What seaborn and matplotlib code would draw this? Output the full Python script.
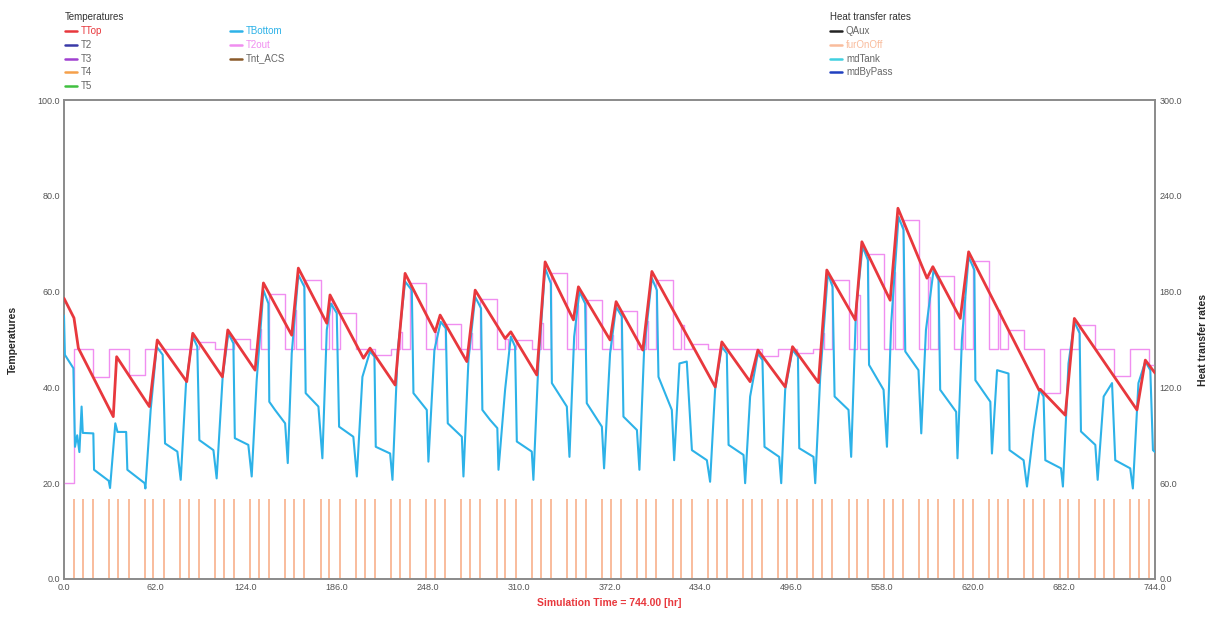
import matplotlib
matplotlib.use("Agg")
import matplotlib.pyplot as plt
from matplotlib.lines import Line2D
import seaborn as sns
import pandas as pd

# ---------------- data ----------------
TTOP_T = [0, 6.8, 9.8, 33.6, 35.9, 58.2, 63.6, 83.7, 87.8, 108.0, 111.7, 130.3, 136.0,
          155.3, 159.8, 179.2, 181.4, 204.2, 208.7, 225.8, 232.6, 253.1, 256.5, 274.7,
          280.4, 300.8, 304.7, 322.4, 328.1, 347.4, 350.8, 372.4, 376.5, 394.7, 400.9,
          444.1, 448.6, 467.9, 473.2, 491.8, 496.8, 514.5, 520.2, 539.6, 544.1, 563.4,
          568.7, 588.5, 592.5, 611.2, 616.9, 665.0, 665.8, 682.8, 689.0, 731.7, 737.4, 744.0]
TTOP_V = [58.6, 54.5, 48.2, 33.9, 46.4, 36.0, 49.9, 41.2, 51.3, 42.2, 52.0, 43.6, 61.8,
          50.9, 64.9, 53.4, 59.3, 46.1, 48.2, 40.5, 63.8, 51.6, 55.1, 45.4,
          60.3, 50.2, 51.6, 42.6, 66.2, 54.1, 61.0, 49.9, 57.9, 47.8, 64.2,
          40.1, 49.5, 41.2, 47.8, 40.1, 48.5, 41.0, 64.5, 54.1, 70.4, 58.2,
          77.4, 62.8, 65.2, 54.4, 68.3, 39.4, 39.6, 34.2, 54.4, 35.3, 45.7, 43.0]

TBOT_T = [0, 0.6, 6.4, 7.5, 9.0, 10.5, 12.0, 12.8, 20.0, 20.5, 30.5, 31.4, 35.0, 36.5,
          42.4, 43.2, 55.0, 55.5, 59.1, 63.2, 67.3, 68.9, 77.3, 79.6, 83.2, 87.8, 90.9,
          92.3, 101.9, 104.1, 108.2, 112.1, 115.5, 116.5, 125.7, 128.0, 131.4, 136.0,
          139.4, 140.0, 143.9, 150.8, 152.6, 155.3, 159.8, 163.9, 164.8, 173.5, 176.2,
          179.2, 182.1, 186.0, 187.6, 197.3, 199.7, 203.5, 208.7, 211.7, 212.6, 222.4,
          224.0, 227.6, 232.6, 237.2, 238.3, 247.4, 248.5, 252.6, 256.9, 260.4, 261.7,
          271.3, 272.4, 275.8, 280.4, 284.4, 285.3, 290.6, 295.5, 296.3, 300.8, 304.7,
          307.6, 308.8, 319.0, 320.1, 323.5, 328.1, 332.0, 332.7, 342.9, 344.7, 347.9,
          351.5, 355.4, 356.5, 366.8, 368.3, 372.4, 376.5, 380.4, 381.5, 390.7, 392.4,
          395.6, 400.9, 404.3, 405.4, 414.5, 416.1, 419.7, 424.7, 428.2, 438.4, 440.6,
          444.0, 448.6, 452.0, 453.2, 463.4, 464.5, 467.9, 473.2, 476.3, 477.7, 487.7,
          489.1, 491.8, 496.8, 500.5, 501.4, 511.1, 512.3, 515.7, 520.9, 524.1, 525.5,
          535.0, 536.8, 540.1, 544.6, 548.2, 549.0, 558.9, 561.2, 564.1, 569.1, 572.5,
          573.7, 582.7, 584.6, 587.8, 593.0, 596.4, 597.5, 608.4, 609.3, 612.3, 616.9,
          620.8, 621.5, 631.7, 632.8, 636.3, 644.1, 644.8, 654.4, 656.7, 661.2, 665.3,
          668.0, 669.2, 679.9, 681.2, 685.0, 689.0, 692.6, 693.5, 703.3, 704.9, 709.0,
          714.7, 716.9, 727.1, 728.9, 732.7, 737.4, 740.8, 742.6, 744.0]
TBOT_V = [55.0, 46.8, 44.0, 27.6, 30.0, 26.5, 36.0, 30.5, 30.4, 22.8, 20.5, 19.0, 32.5, 30.7,
          30.7, 22.8, 20.0, 18.9, 35.3, 48.5, 46.8, 28.3, 26.6, 20.7, 40.8, 50.6, 48.5,
          29.0, 26.9, 21.0, 42.2, 51.3, 49.2, 29.4, 28.0, 21.4, 41.5, 60.3,
          57.5, 37.0, 35.3, 32.5, 24.2, 47.1, 63.5, 61.0, 38.8, 36.0, 25.2,
          52.0, 57.5, 55.5, 31.8, 29.7, 21.4, 42.2, 47.5, 46.4, 27.6, 26.2,
          20.7, 47.8, 62.1, 60.3, 38.8, 35.3, 24.5, 47.8, 53.7, 52.3, 32.5,
          29.7, 21.4, 45.7, 58.9, 56.5, 35.3, 33.2, 31.5, 22.8, 39.5, 50.6,
          48.5, 28.7, 26.6, 20.7, 45.0, 64.9, 61.7, 40.9, 36.0, 25.5, 50.6,
          60.0, 57.5, 36.7, 31.8, 23.1, 47.1, 56.8, 54.8, 33.9, 31.1, 22.8,
          47.8, 62.8, 60.3, 42.2, 35.3, 24.8, 45.0, 45.4, 26.9, 24.8, 20.3,
          39.5, 48.5, 47.1, 28.0, 25.9, 20.0, 38.1, 47.1, 45.7, 27.6, 25.5,
          20.0, 39.5, 47.8, 46.4, 27.3, 25.5, 20.0, 42.2, 63.8, 61.0, 38.1,
          35.3, 25.5, 56.2, 69.4, 66.6, 44.7, 39.5, 27.6, 53.4, 75.6, 72.9,
          47.5, 43.6, 30.4, 52.0, 64.5, 62.4, 39.5, 34.9, 25.2, 49.9, 67.3,
          64.5, 41.5, 37.0, 26.2, 43.6, 42.9, 26.9, 24.8, 19.3, 31.1, 39.5,
          38.1, 24.8, 23.1, 19.3, 45.0, 53.7, 51.3, 30.8, 28.0, 20.7, 38.1,
          40.9, 24.8, 23.1, 18.9, 40.9, 45.4, 43.6, 26.9, 26.5]

# pink step series (value held from each time until the next)
T2OUT_T = [0, 7, 20, 31, 44, 55, 68, 79, 92, 103, 116,
           127, 133, 134.5, 140, 151, 157, 158.5, 164, 175, 181, 182.5, 188,
           199, 212, 223, 229, 230.5, 236, 247, 253, 254.5, 260, 271, 277, 278.5, 284,
           295, 301, 302.5, 308, 319, 325, 326.5, 332, 343, 349, 350.5, 356,
           367, 373, 374.5, 380, 391, 397, 398.5, 404, 415, 421, 422.5, 428,
           439, 452, 463, 476, 487, 500, 511, 517, 518.5, 524, 535, 541, 542.5, 548,
           559, 565, 566.5, 572, 583, 589, 590.5, 596, 607, 613, 614.5, 620,
           631, 637, 638.5, 644, 655, 668, 679, 692, 703, 716, 727, 740, 744]
T2OUT_V = [20.0, 48.0, 42.1, 48.0, 42.6, 48.0, 48.0, 48.0, 49.4, 48.0, 50.1,
           48.0, 52.2, 48.0, 59.5, 48.0, 56.2, 48.0, 62.4, 48.0, 58.2, 48.0, 55.5,
           48.0, 46.7, 48.0, 51.5, 48.0, 61.8, 48.0, 51.6, 48.0, 53.2, 48.0, 51.4, 48.0, 58.5,
           48.0, 50.2, 48.0, 49.9, 48.0, 53.4, 48.0, 63.8, 48.0, 57.3, 48.0, 58.3,
           48.0, 50.9, 48.0, 56.0, 48.0, 53.9, 48.0, 62.5, 48.0, 53.0, 48.0, 49.1,
           48.0, 48.0, 48.0, 46.6, 48.0, 47.1, 48.0, 51.3, 48.0, 62.5, 48.0, 59.2, 48.0, 67.9,
           48.0, 64.0, 48.0, 75.0, 48.0, 63.1, 48.0, 63.2, 48.0, 58.8, 48.0, 66.4,
           48.0, 56.2, 48.0, 52.0, 48.0, 38.9, 48.0, 53.1, 48.0, 42.3, 48.0, 44.6, 44.6]

# hot-water draw pulses (hr) and their height on the heat-rate axis
PULSE_T = [7, 13, 20, 31, 37, 44, 55, 61, 68, 79, 85, 92, 103, 109, 116, 127, 133, 140,
           151, 157, 164, 175, 181, 188, 199, 205, 212, 223, 229, 236, 247, 253, 260,
           271, 277, 284, 295, 301, 308, 319, 325, 332, 343, 349, 356, 367, 373, 380,
           391, 397, 404, 415, 421, 428, 439, 445, 452, 463, 469, 476, 487, 493, 500,
           511, 517, 524, 535, 541, 548, 559, 565, 572, 583, 589, 596, 607, 613, 620,
           631, 637, 644, 655, 661, 668, 679, 685, 692, 703, 709, 716, 727, 733, 740]
PULSE_H = 50.0

X_TICKS = [0, 62, 124, 186, 248, 310, 372, 434, 496, 558, 620, 682, 744]
YL_TICKS = [0, 20, 40, 60, 80, 100]
YR_TICKS = [0, 60, 120, 180, 240, 300]

TEMP_NAMES = ["TTop", "T2", "T3", "T4", "T5", "TBottom", "T2out", "Tnt_ACS"]
HEAT_NAMES = ["QAux", "furOnOff", "mdTank", "mdByPass"]

# ---------------- styling ----------------
RED = "#e8383d"
SKY = "#2db2e8"
PINK = "#f08ef0"
ORANGE = "#f9bc9c"
GRAY = "#666666"

sns.set_style("white")
plt.rcParams["font.family"] = ["Liberation Sans", "DejaVu Sans"]

fig = plt.figure(figsize=(12.21, 6.22), dpi=100)
ax = fig.add_axes([64 / 1221, 43 / 622, 1091 / 1221, 479 / 622])
ax2 = ax.twinx()

df_top = pd.DataFrame({"t": TTOP_T, "v": TTOP_V})
df_bot = pd.DataFrame({"t": TBOT_T, "v": TBOT_V})
df_pink = pd.DataFrame({"t": T2OUT_T, "v": T2OUT_V})

ax2.vlines(PULSE_T, 0, PULSE_H, color=ORANGE, lw=1.4, zorder=1)
sns.lineplot(data=df_pink, x="t", y="v", ax=ax, color=PINK, lw=1.0,
             estimator=None, sort=False, drawstyle="steps-post", zorder=2)
sns.lineplot(data=df_bot, x="t", y="v", ax=ax, color=SKY, lw=1.5,
             estimator=None, sort=False, zorder=3)
sns.lineplot(data=df_top, x="t", y="v", ax=ax, color=RED, lw=2.0,
             estimator=None, sort=False, zorder=4)

ax.set_xlim(0, 744)
ax.set_ylim(0, 100)
ax2.set_ylim(0, 300)
ax.set_xticks(X_TICKS)
ax.set_xticklabels([f"{v:.1f}" for v in X_TICKS])
ax.set_yticks(YL_TICKS)
ax.set_yticklabels([f"{v:.1f}" for v in YL_TICKS])
ax2.set_yticks(YR_TICKS)
ax2.set_yticklabels([f"{v:.1f}" for v in YR_TICKS])
for a in (ax, ax2):
    a.tick_params(labelsize=6.5, colors="#555555", length=0, pad=3)
    for s in a.spines.values():
        s.set_color("#8a8a8a")
        s.set_linewidth(1.2)
ax.set_zorder(ax2.get_zorder() + 1)
ax.patch.set_visible(False)

ax.set_xlabel("Simulation Time = 744.00 [hr]", color="#e8383d", fontsize=7.5,
              fontweight="bold", labelpad=4)
ax.set_ylabel("Temperatures", fontsize=7.5, fontweight="bold", labelpad=14)
ax2.set_ylabel("Heat transfer rates", fontsize=7.5, fontweight="bold", labelpad=12)

# ---------------- legends (figure-pixel layout) ----------------
W, H = 1221, 622


def legend_block(x0, title, names, colors, tcolors, rows_y):
    fig.text(x0 / W, 1 - 17 / H, title, fontsize=7, color="#333333", va="center")
    for name, c, tc, y in zip(names, colors, tcolors, rows_y):
        fig.add_artist(Line2D([x0 / W, (x0 + 12) / W], [1 - y / H, 1 - y / H],
                              color=c, lw=1.8, transform=fig.transFigure))
        fig.text((x0 + 16) / W, 1 - y / H, name, fontsize=7, color=tc, va="center")


rows = [31, 45, 58.5, 72, 86]
legend_block(65, "Temperatures", TEMP_NAMES[:5],
             [RED, "#3a3aa8", "#a040d0", "#f5a04a", "#40c040"],
             [RED, GRAY, GRAY, GRAY, GRAY], rows)
legend_block(230, "", TEMP_NAMES[5:], [SKY, PINK, "#8a5a2a"],
             [SKY, PINK, GRAY], rows[:3])
legend_block(830, "Heat transfer rates", HEAT_NAMES,
             ["#222222", ORANGE, "#40d0e0", "#2040c0"],
             [GRAY, ORANGE, GRAY, GRAY], rows[:4])

fig.savefig("out.png", dpi=100)
